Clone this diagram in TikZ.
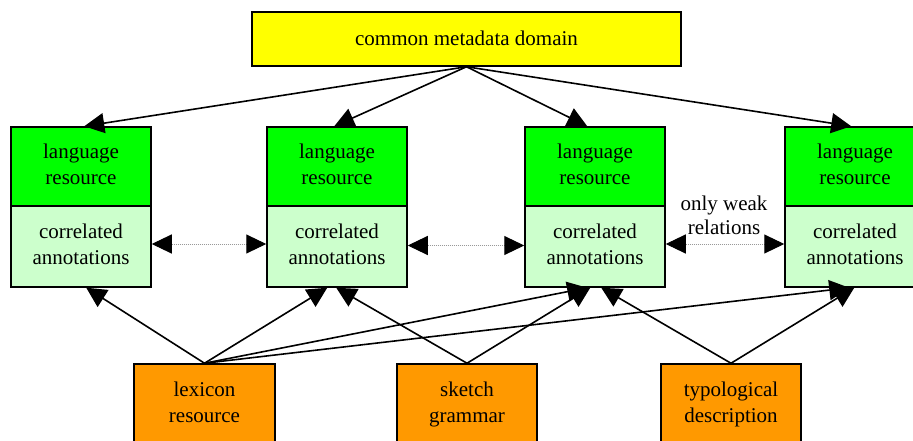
\documentclass[tikz,border=0pt]{standalone}
\usepackage{fontspec}
\setmainfont{Liberation Serif}
\usetikzlibrary{arrows.meta,calc}
\definecolor{cyellow}{HTML}{FFFF00}
\definecolor{cgreen}{HTML}{00FF00}
\definecolor{clight}{HTML}{CCFFCC}
\definecolor{corange}{HTML}{FF9900}
\newcommand\twol[3]{\raisebox{#3}{\begin{tabular}{@{}c@{}}#1\\#2\end{tabular}}}
\tikzset{
  box/.style={draw, line width=1.5pt, minimum width=140pt, inner sep=0pt, align=center,
    font=\fontsize{21}{26}\selectfont},
  lrbox/.style={box, fill=cgreen, minimum height=79pt},
  cabox/.style={box, fill=clight, minimum height=81pt},
  srcbox/.style={box, fill=corange, minimum width=141pt, minimum height=81pt},
  edge/.style={line width=1.6pt, -{Triangle[length=20pt,width=20pt]}},
  weak/.style={densely dotted, gray!80, line width=1pt,
    {Triangle[length=20pt,width=19pt,color=black]}-{Triangle[length=20pt,width=19pt,color=black]}}
}
\begin{document}
\begin{tikzpicture}[x=1pt,y=-1pt]
\useasboundingbox (0,0) rectangle (913,441);
\clip (0,0) rectangle (913,441);
\node[box, fill=cyellow, minimum width=429pt, minimum height=54pt] (top) at (466.5,39) {\raisebox{2pt}{common metadata domain}};
\node[lrbox] (lr1) at (81,166.5) {\twol{language}{resource}{4pt}};
\node[cabox] (ca1) at (81,246.5) {\twol{correlated}{annotations}{4pt}};
\node[lrbox] (lr2) at (337,166.5) {\twol{language}{resource}{4pt}};
\node[cabox] (ca2) at (337,246.5) {\twol{correlated}{annotations}{4pt}};
\node[lrbox] (lr3) at (595,166.5) {\twol{language}{resource}{4pt}};
\node[cabox] (ca3) at (595,246.5) {\twol{correlated}{annotations}{4pt}};
\node[lrbox] (lr4) at (855,166.5) {\twol{language}{resource}{4pt}};
\node[cabox] (ca4) at (855,246.5) {\twol{correlated}{annotations}{4pt}};
\node[srcbox] (lex) at (204.5,404.5) {\twol{lexicon}{resource}{3pt}};
\node[srcbox, minimum width=140pt] (sk) at (467,404.5) {\twol{sketch}{grammar}{3pt}};
\node[srcbox, minimum width=140pt] (ty) at (731,404.5) {\twol{typological}{description}{3pt}};
\node[align=center, font=\fontsize{21}{24}\selectfont] (lbl) at (724,215) {only weak\\relations};
% top edges
\draw[edge] (top.south) -- ($(lr1.north west)+(74,0)$);
\draw[edge] (top.south) -- ($(lr2.north west)+(68,0)$);
\draw[edge] (top.south) -- ($(lr3.north west)+(63,0)$);
\draw[edge] (top.south) -- ($(lr4.north west)+(67,0)$);
% weak relations
\draw[weak] ($(ca1.east)+(0,-2.5)$) -- ($(ca2.west)+(0,-2.5)$);
\draw[weak] ($(ca2.east)+(0,-1)$) -- ($(ca3.west)+(0,-1)$);
\draw[weak] ($(ca3.east)+(0,-2.5)$) -- ($(ca4.west)+(0,-2.5)$);
% bottom edges
\draw[edge] (lex.north) -- ($(ca1.south west)+(76,0)$);
\draw[edge] (lex.north) -- ($(ca2.south west)+(61,0)$);
\draw[edge] (lex.north) -- ($(ca3.south west)+(63,0)$);
\draw[edge] (lex.north) -- ($(ca4.south west)+(65,0)$);
\draw[edge] (sk.north) -- ($(ca2.south west)+(70,0)$);
\draw[edge] (sk.north) -- ($(ca3.south west)+(66,0)$);
\draw[edge] (ty.north) -- ($(ca3.south west)+(77,0)$);
\draw[edge] (ty.north) -- ($(ca4.south west)+(70,0)$);
\end{tikzpicture}
\end{document}
